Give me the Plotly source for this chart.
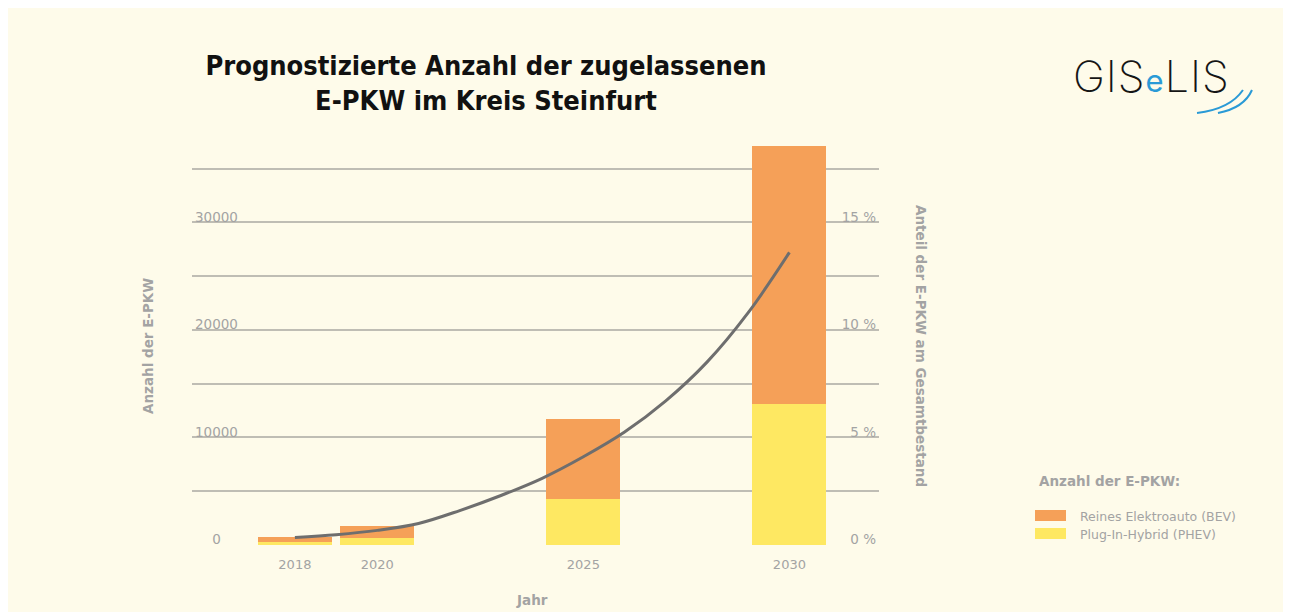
import plotly.graph_objects as go

# ---------------- data ----------------
years = [2018, 2020, 2025, 2030]
tick_labels = ["2018", "2020", "2025", "2030"]
phev = [300, 650, 4280, 13130]        # Plug-In-Hybrid (PHEV)
bev = [450, 1120, 7450, 23970]        # Reines Elektroauto (BEV)

share_years = [2018, 2019, 2020, 2021, 2022, 2023, 2024, 2025, 2026, 2027, 2028, 2029, 2030]
share_pct = [0.35, 0.48, 0.68, 1.0, 1.6, 2.3, 3.1, 4.1, 5.25, 6.7, 8.5, 10.8, 13.6]

left_ticks = [0, 5000, 10000, 15000, 20000, 25000, 30000, 35000]
left_ticktext = ["\u00a0\u00a0\u00a0\u00a00", "", "10000", "", "20000", "", "30000", ""]
right_ticks = [0, 5, 10, 15]
right_ticktext = ["0 %", "5 %", "10 %", "15 %"]

# ---------------- style ----------------
BG = "#FEFBEA"
ORANGE = "#F5A058"
YELLOW = "#FEE862"
GRAY_TXT = "#A3A3A3"
GRID = "#BFBDB4"
LINE = "#6E6E6E"
BLUE = "#2A9AD6"
FONT = "DejaVu Sans"

W, H = 1300, 604
L, R, T, B = 184, 871, 132, 537  # plot area in figure pixels


def px(x):
    return (x - L) / (R - L)


def py(y):
    return (B - y) / (B - T)


fig = go.Figure()
fig.add_trace(go.Bar(x=years, y=phev, name="Plug-In-Hybrid (PHEV)",
                     marker=dict(color=YELLOW, line=dict(width=0)), width=1.796))
fig.add_trace(go.Bar(x=years, y=bev, name="Reines Elektroauto (BEV)",
                     marker=dict(color=ORANGE, line=dict(width=0)), width=1.796))
fig.add_trace(go.Scatter(x=share_years, y=share_pct, yaxis="y2", mode="lines",
                         line=dict(color=LINE, width=3, shape="spline", smoothing=1.0),
                         name="Anteil", showlegend=False))

fig.update_layout(
    width=W, height=H,
    margin=dict(l=L, r=W - R, t=T, b=H - B, pad=0),
    paper_bgcolor=BG, plot_bgcolor=BG,
    barmode="stack", bargap=0,
    showlegend=False,
    font=dict(family=FONT, color=GRAY_TXT, size=13),
    xaxis=dict(range=[2015.503, 2032.174], tickvals=years, ticktext=tick_labels,
               showgrid=False, zeroline=False, showline=False, ticks="",
               ticklabelstandoff=10, tickfont=dict(size=13, color=GRAY_TXT)),
    yaxis=dict(range=[0, 37650], tickvals=left_ticks, ticktext=left_ticktext,
               showgrid=True, gridcolor=GRID, gridwidth=1.5, zeroline=False,
               showline=False, ticks="", ticklabelposition="inside top",
               ticklabelshift=4, ticklabeloverflow="allow",
               tickfont=dict(size=13.5, color=GRAY_TXT)),
    yaxis2=dict(range=[0, 18.825], overlaying="y", side="right",
                tickvals=right_ticks, ticktext=right_ticktext,
                showgrid=False, zeroline=False, showline=False, ticks="",
                ticklabelposition="inside top", ticklabelshift=4,
                ticklabeloverflow="allow",
                tickfont=dict(size=13.5, color=GRAY_TXT)),
    title=dict(text="Prognostizierte Anzahl der zugelassenen<br>E-PKW im Kreis Steinfurt",
               xref="container", yref="container",
               x=478 / W, y=1 - 67 / H, xanchor="center", yanchor="middle",
               font=dict(family="Liberation Sans Narrow, DejaVu Sans Condensed, Liberation Sans",
                         size=27, color="#111111", weight="bold")),
)

ann = []
# axis titles
ann.append(dict(text="<b>Anzahl der E-PKW</b>", x=px(140), y=py(338), textangle=-90,
                font=dict(size=13.5, color=GRAY_TXT)))
ann.append(dict(text="<b>Anteil der E-PKW am Gesamtbestand</b>", x=px(913), y=py(338), textangle=90,
                font=dict(size=13.5, color=GRAY_TXT)))
ann.append(dict(text="<b>Jahr</b>", x=px(524), y=py(592), font=dict(size=13.5, color=GRAY_TXT)))
# legend
ann.append(dict(text="<b>Anzahl der E-PKW:</b>", x=px(1029), y=py(473), xanchor="left",
                font=dict(size=13.5, color=GRAY_TXT)))
ann.append(dict(text="Reines Elektroauto (BEV)", x=px(1070), y=py(508), xanchor="left",
                font=dict(size=12.5, color=GRAY_TXT)))
ann.append(dict(text="Plug-In-Hybrid (PHEV)", x=px(1070), y=py(526), xanchor="left",
                font=dict(size=12.5, color=GRAY_TXT)))
# logo
ann.append(dict(text="<span style='letter-spacing:1px'>GIS<span style='color:" + BLUE +
                ";font-size:31px;font-weight:400'>e</span>LIS</span>",
                x=px(1063), y=py(68), xanchor="left",
                font=dict(family="Inter, Lato, DejaVu Sans", size=43, color="#151515", weight=200)))

for a in ann:
    a.setdefault("xref", "paper")
    a.setdefault("yref", "paper")
    a.setdefault("showarrow", False)
    a.setdefault("xanchor", "center")
    a.setdefault("yanchor", "middle")
fig.update_layout(annotations=ann)

shapes = []
shapes.append(dict(type="rect", xref="paper", yref="paper", x0=px(1027), x1=px(1058),
                   y0=py(513), y1=py(502), fillcolor=ORANGE, line=dict(width=0)))
shapes.append(dict(type="rect", xref="paper", yref="paper", x0=px(1027), x1=px(1058),
                   y0=py(531), y1=py(520), fillcolor=YELLOW, line=dict(width=0)))
# logo swooshes
for (x0, y0, cx, cy, x1, y1) in [(1189, 105, 1222, 101, 1235, 82), (1210, 105, 1236, 100, 1244, 82)]:
    path = "M {:.4f},{:.4f} Q {:.4f},{:.4f} {:.4f},{:.4f}".format(px(x0), py(y0), px(cx), py(cy), px(x1), py(y1))
    shapes.append(dict(type="path", xref="paper", yref="paper", path=path,
                       line=dict(color=BLUE, width=2)))
fig.update_layout(shapes=shapes)

fig.write_html("out.html")
